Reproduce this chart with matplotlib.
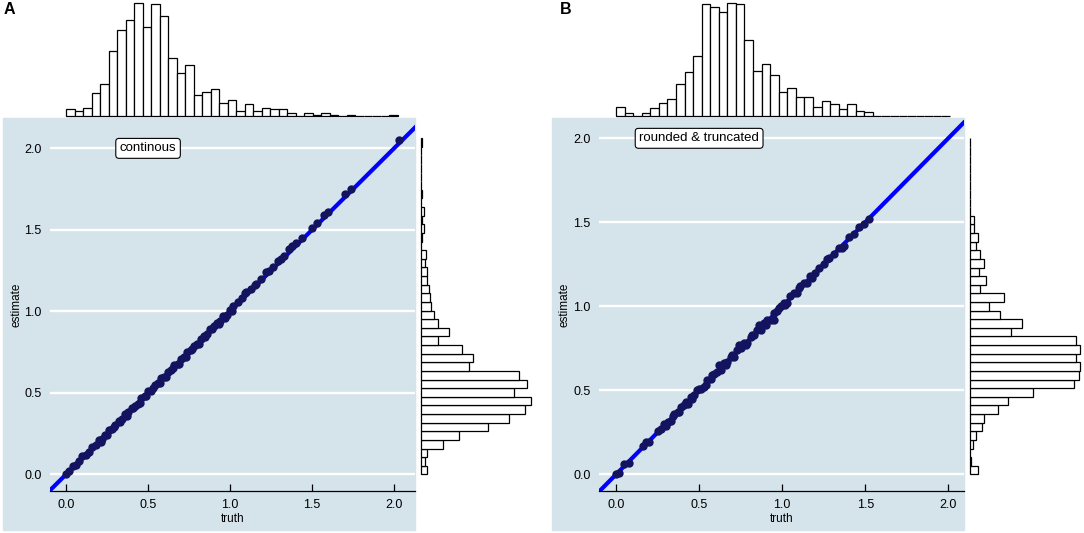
import numpy as np
import matplotlib.pyplot as plt
from matplotlib.patches import Rectangle

plt.rcParams['font.family'] = ['Liberation Sans', 'DejaVu Sans']

W, H = 1084, 533
BG = '#d5e4eb'
PT_COL = '#131360'
LINE_COL = '#0000ff'

# ---- panel A: continuous ----
a_truth = [0.00, 0.02, 0.04, 0.06, 0.08, 0.10, 0.12, 0.14, 0.16, 0.18, 0.20, 0.22,
           0.24, 0.26, 0.28, 0.30, 0.32, 0.34, 0.36, 0.38, 0.40, 0.42, 0.44, 0.46,
           0.48, 0.50, 0.52, 0.54, 0.56, 0.58, 0.60, 0.62, 0.64, 0.66, 0.68, 0.70,
           0.72, 0.74, 0.76, 0.78, 0.80, 0.82, 0.84, 0.86, 0.88, 0.90, 0.92, 0.94,
           0.96, 0.98, 1.00, 1.02, 1.05, 1.07, 1.10, 1.13, 1.16, 1.19, 1.22, 1.26,
           1.29, 1.33, 1.36, 1.40, 1.44, 1.50, 1.53, 1.57, 1.60, 1.70, 1.74, 2.03,
           0.21, 0.25, 0.29, 0.33, 0.37, 0.41, 0.45, 0.49, 0.53, 0.57, 0.61, 0.65,
           0.69, 0.73, 0.77, 0.81, 0.85, 0.89, 0.93, 0.97, 1.01, 1.09, 1.15, 1.24,
           1.31, 1.38]
a_est = [0.00, 0.02, 0.05, 0.06, 0.08, 0.11, 0.12, 0.14, 0.17, 0.18, 0.21, 0.22,
         0.24, 0.27, 0.28, 0.30, 0.33, 0.34, 0.37, 0.38, 0.41, 0.42, 0.43, 0.47,
         0.48, 0.51, 0.51, 0.55, 0.56, 0.59, 0.60, 0.63, 0.64, 0.67, 0.68, 0.71,
         0.72, 0.75, 0.76, 0.79, 0.80, 0.83, 0.85, 0.86, 0.89, 0.91, 0.93, 0.94,
         0.97, 0.98, 1.01, 1.03, 1.06, 1.08, 1.12, 1.14, 1.17, 1.20, 1.24, 1.27,
         1.31, 1.34, 1.38, 1.42, 1.45, 1.51, 1.54, 1.59, 1.61, 1.72, 1.75, 2.05,
         0.20, 0.24, 0.29, 0.32, 0.36, 0.41, 0.44, 0.48, 0.53, 0.56, 0.60, 0.65,
         0.68, 0.72, 0.77, 0.80, 0.84, 0.89, 0.92, 0.96, 1.00, 1.11, 1.16, 1.25,
         1.32, 1.40]

a_top_counts = [5, 4, 6, 17, 24, 49, 65, 72, 85, 67, 84, 75, 44, 32, 38, 16, 18, 20,
                10, 12, 4, 9, 4, 6, 5, 5, 2, 0, 2, 1, 2, 1, 0, 1, 0, 0, 0, 0, 1]
a_right_counts = [5, 3, 5, 17, 29, 52, 68, 80, 85, 72, 82, 76, 37, 40, 32, 13, 22, 13,
                  10, 8, 7, 6, 5, 5, 3, 4, 0, 1, 2, 1, 2, 0, 1, 0, 0, 0, 0, 0, 1]

# ---- panel B: rounded & truncated ----
b_truth = [0.00, 0.02, 0.05, 0.08, 0.16, 0.18, 0.20, 0.25, 0.27, 0.29, 0.31, 0.33,
           0.35, 0.37, 0.39, 0.41, 0.43, 0.45, 0.47, 0.49, 0.51, 0.53, 0.55, 0.57,
           0.59, 0.61, 0.63, 0.65, 0.67, 0.69, 0.71, 0.73, 0.75, 0.77, 0.79, 0.81,
           0.83, 0.85, 0.87, 0.89, 0.91, 0.93, 0.95, 0.97, 0.99, 1.01, 1.03, 1.05,
           1.07, 1.09, 1.11, 1.13, 1.15, 1.17, 1.20, 1.22, 1.25, 1.28, 1.31, 1.34,
           1.37, 1.40, 1.43, 1.46, 1.49, 1.52, 0.62, 0.74, 0.86, 0.95,
           0.30, 0.34, 0.38, 0.42, 0.46, 0.50, 0.54, 0.58, 0.66, 0.70, 0.78, 0.82,
           0.90, 0.98, 1.02, 1.10, 1.18, 1.27, 1.36]
b_est = [0.00, 0.01, 0.06, 0.07, 0.17, 0.19, 0.19, 0.26, 0.27, 0.30, 0.31, 0.32,
         0.36, 0.37, 0.40, 0.41, 0.42, 0.46, 0.47, 0.50, 0.51, 0.52, 0.56, 0.57,
         0.60, 0.61, 0.62, 0.66, 0.67, 0.70, 0.70, 0.74, 0.75, 0.78, 0.78, 0.82,
         0.83, 0.86, 0.86, 0.90, 0.92, 0.92, 0.96, 0.97, 1.00, 1.02, 1.02, 1.06,
         1.08, 1.08, 1.12, 1.14, 1.14, 1.18, 1.20, 1.23, 1.25, 1.29, 1.31, 1.35,
         1.36, 1.41, 1.43, 1.47, 1.49, 1.52, 0.65, 0.77, 0.89, 0.92,
         0.29, 0.35, 0.37, 0.43, 0.45, 0.51, 0.53, 0.59, 0.65, 0.71, 0.77, 0.83,
         0.89, 0.99, 1.01, 1.11, 1.17, 1.28, 1.35]

b_top_counts = [7, 2, 0, 2, 6, 10, 13, 24, 33, 45, 84, 82, 78, 85, 84, 57, 34, 39,
                31, 18, 21, 14, 14, 7, 11, 9, 5, 9, 4, 3, 0, 0, 0, 0, 0, 0, 0, 0, 0]
b_right_counts = [6, 1, 0, 2, 5, 9, 11, 22, 29, 49, 80, 84, 85, 82, 85, 82, 32, 40,
                  23, 15, 26, 8, 12, 7, 11, 8, 5, 6, 3, 3, 0, 0, 0, 0, 0, 0, 0, 0, 0]

ticks = [0.0, 0.5, 1.0, 1.5, 2.0]
tick_labels = ['0.0', '0.5', '1.0', '1.5', '2.0']


def box(x0, y0, x1, y1):
    return [x0 / W, 1 - y1 / H, (x1 - x0) / W, (y1 - y0) / H]


fig = plt.figure(figsize=(W / 100, H / 100), dpi=100)

panels = [
    dict(dx=0, xlim=(-0.098, 2.128), ylim=(-0.102, 2.174), truth=a_truth, est=a_est,
         top=a_top_counts, top_rng=(0.0, 2.024), right=a_right_counts,
         right_rng=(0.0, 2.063), label='continous', tag='A', tag_x=4),
    dict(dx=549, xlim=(-0.103, 2.095), ylim=(-0.099, 2.109), truth=b_truth, est=b_est,
         top=b_top_counts, top_rng=(0.0, 2.01), right=b_right_counts,
         right_rng=(0.0, 2.0), label='rounded & truncated', tag='B', tag_x=560),
]

for p in panels:
    dx = p['dx']
    # light blue plot background behind main panel + axis labels
    fig.patches.append(Rectangle(((3 + dx) / W, 1 - 530 / H), 412 / W, 412 / H,
                                 transform=fig.transFigure, color=BG, zorder=-5))

    ax = fig.add_axes(box(50 + dx, 120, 415 + dx, 491))
    ax.set_facecolor(BG)
    ax.set_xlim(*p['xlim'])
    ax.set_ylim(*p['ylim'])
    ax.axline((0, 0), slope=1, color=LINE_COL, lw=3, zorder=2)
    ax.scatter(p['truth'], p['est'], s=36, color=PT_COL, zorder=3, linewidths=0)
    ax.set_xticks(ticks)
    ax.set_xticklabels(tick_labels)
    ax.set_yticks(ticks)
    ax.set_yticklabels(tick_labels)
    ax.yaxis.grid(True, color='white', lw=1.7)
    ax.set_axisbelow(True)
    for s in ['left', 'right', 'top']:
        ax.spines[s].set_visible(False)
    ax.spines['bottom'].set_linewidth(0.9)
    ax.tick_params(axis='x', direction='in', length=5, width=0.9, labelsize=9, pad=6)
    ax.tick_params(axis='y', length=0, labelsize=9, pad=6)
    ax.set_xlabel('truth', fontsize=8.5, labelpad=1)
    ax.text(0.5, 2.0, p['label'], fontsize=9.5, ha='center', va='center',
            zorder=4, bbox=dict(boxstyle='round,pad=0.3,rounding_size=0.25',
                                fc='white', ec='black', lw=0.8))
    fig.text((16 + dx) / W, 1 - 305 / H, 'estimate', rotation=90, fontsize=8.5,
             ha='center', va='center')
    fig.text(p['tag_x'] / W, 1 - 10 / H, p['tag'], fontsize=11.5,
             fontweight='bold', ha='left', va='center')

    # top marginal histogram (truth)
    axt = fig.add_axes(box(50 + dx, 0, 415 + dx, 116))
    edges = np.linspace(p['top_rng'][0], p['top_rng'][1], len(p['top']) + 1)
    axt.bar(edges[:-1], p['top'], width=np.diff(edges), align='edge',
            fc='white', ec='black', lw=0.9, clip_on=False)
    axt.set_xlim(*p['xlim'])
    axt.set_ylim(0, max(p['top']) * 116 / 113)
    axt.axis('off')

    # right marginal histogram (estimate)
    axr = fig.add_axes(box(421 + dx, 120, 533 + dx, 491))
    edges = np.linspace(p['right_rng'][0], p['right_rng'][1], len(p['right']) + 1)
    axr.barh(edges[:-1], p['right'], height=np.diff(edges), align='edge',
             fc='white', ec='black', lw=0.9, clip_on=False)
    axr.set_ylim(*p['ylim'])
    axr.set_xlim(0, max(p['right']) * 112 / 110)
    axr.axis('off')

fig.savefig('out.png', dpi=100)
